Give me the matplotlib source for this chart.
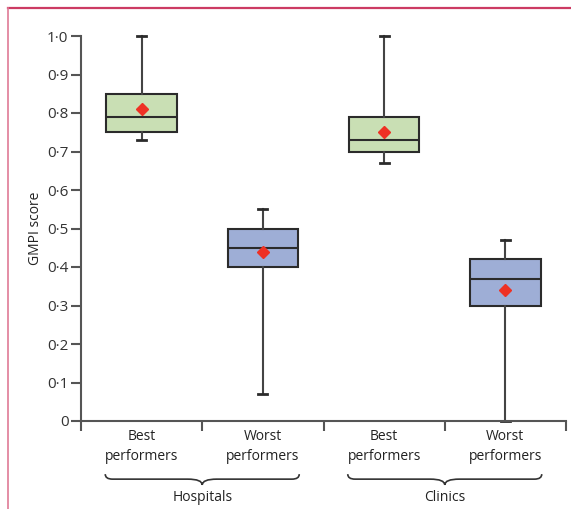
import matplotlib
matplotlib.use("Agg")
import matplotlib.pyplot as plt
from matplotlib.path import Path
from matplotlib.patches import PathPatch
from matplotlib.lines import Line2D

plt.rcParams['font.family'] = ['Open Sans', 'DejaVu Sans']

# box statistics
groups = ["Best\nperformers", "Worst\nperformers", "Best\nperformers", "Worst\nperformers"]
whislo = [0.73, 0.07, 0.67, 0.0]
q1 = [0.75, 0.40, 0.70, 0.30]
med = [0.79, 0.45, 0.73, 0.37]
q3 = [0.85, 0.50, 0.79, 0.42]
whishi = [1.0, 0.55, 1.0, 0.47]
means = [0.81, 0.44, 0.75, 0.34]
fills = ["#c9dfb4", "#9eaed6", "#c9dfb4", "#9eaed6"]
settings = ["Hospitals", "Clinics"]

yticks = [0, 0.1, 0.2, 0.3, 0.4, 0.5, 0.6, 0.7, 0.8, 0.9, 1.0]
ytick_labels = ["0"] + [("%.1f" % v).replace(".", "\u00b7") for v in yticks[1:]]

edge = "#2b2b2b"
axis_col = "#555555"

fig = plt.figure(figsize=(5.71, 5.09), dpi=100)
ax = fig.add_axes([81 / 571, 88 / 509, 485 / 571, 385 / 509])

stats = []
for i in range(len(groups)):
    stats.append(dict(whislo=whislo[i], q1=q1[i], med=med[i], q3=q3[i],
                      whishi=whishi[i], mean=means[i], label=groups[i]))

pos = [0.5, 1.5, 2.5, 3.5]
bp = ax.bxp(stats, positions=pos, widths=0.58, patch_artist=True,
            showmeans=True, showfliers=False,
            boxprops=dict(edgecolor=edge, linewidth=1.5),
            medianprops=dict(color=edge, linewidth=1.5),
            whiskerprops=dict(color="#444444", linewidth=1.5),
            capprops=dict(color=edge, linewidth=2),
            capwidths=0.075,
            meanprops=dict(marker="D", markerfacecolor="#ee3124",
                           markeredgecolor="#ee3124", markersize=6))
for patch, c in zip(bp["boxes"], fills):
    patch.set_facecolor(c)
for art in bp["caps"] + bp["whiskers"]:
    art.set_clip_on(False)

ax.set_xlim(0, 4)
ax.set_ylim(0, 1.0)
for s in ["top", "right"]:
    ax.spines[s].set_visible(False)
for s in ["left", "bottom"]:
    ax.spines[s].set_color(axis_col)
    ax.spines[s].set_linewidth(1.5)

ax.set_yticks(yticks)
ax.set_yticklabels(ytick_labels)
ax.tick_params(axis="y", length=7, width=1.5, color=axis_col, labelsize=11,
               labelcolor="#333333", pad=2)

ax.set_xticks([0, 1, 2, 3, 4])
ax.set_xticklabels([])
ax.tick_params(axis="x", which="major", length=7, width=1.5, color=axis_col)
ax.set_xticks(pos, minor=True)
ax.set_xticklabels(groups, minor=True, linespacing=1.45)
ax.tick_params(axis="x", which="minor", length=0, labelsize=10,
               labelcolor="#222222", pad=6)

ax.set_ylabel("GMPI score", fontsize=10, color="#222222", labelpad=3)

# curly braces grouping the categories
tr = ax.get_xaxis_transform()
y_top, y_mid, y_tip = -0.138, -0.151, -0.166
for k, name in enumerate(settings):
    x0, x1 = 0.2 + 2 * k, 1.8 + 2 * k
    xc = (x0 + x1) / 2
    verts = [(x0, y_top), (x0, y_mid), (x0 + 0.06, y_mid),
             (xc - 0.12, y_mid), (xc, y_mid), (xc, y_tip),
             (xc, y_mid), (xc + 0.12, y_mid),
             (x1 - 0.06, y_mid), (x1, y_mid), (x1, y_top)]
    codes = [Path.MOVETO, Path.CURVE3, Path.CURVE3,
             Path.LINETO, Path.CURVE3, Path.CURVE3,
             Path.CURVE3, Path.CURVE3,
             Path.LINETO, Path.CURVE3, Path.CURVE3]
    ax.add_patch(PathPatch(Path(verts, codes), transform=tr, fill=False,
                           edgecolor="#333333", linewidth=1.2, clip_on=False))
    ax.text(xc, -0.198, name, transform=tr, ha="center", va="center",
            fontsize=10, color="#222222")

# pink frame at top and left
fig.add_artist(Line2D([8 / 571, 1.0], [1 - 8 / 509, 1 - 8 / 509],
                      color="#cc3b63", linewidth=1.6))
fig.add_artist(Line2D([8 / 571, 8 / 571], [0, 1 - 8 / 509],
                      color="#df7a96", linewidth=1.2))

fig.savefig("out.png", dpi=100)
